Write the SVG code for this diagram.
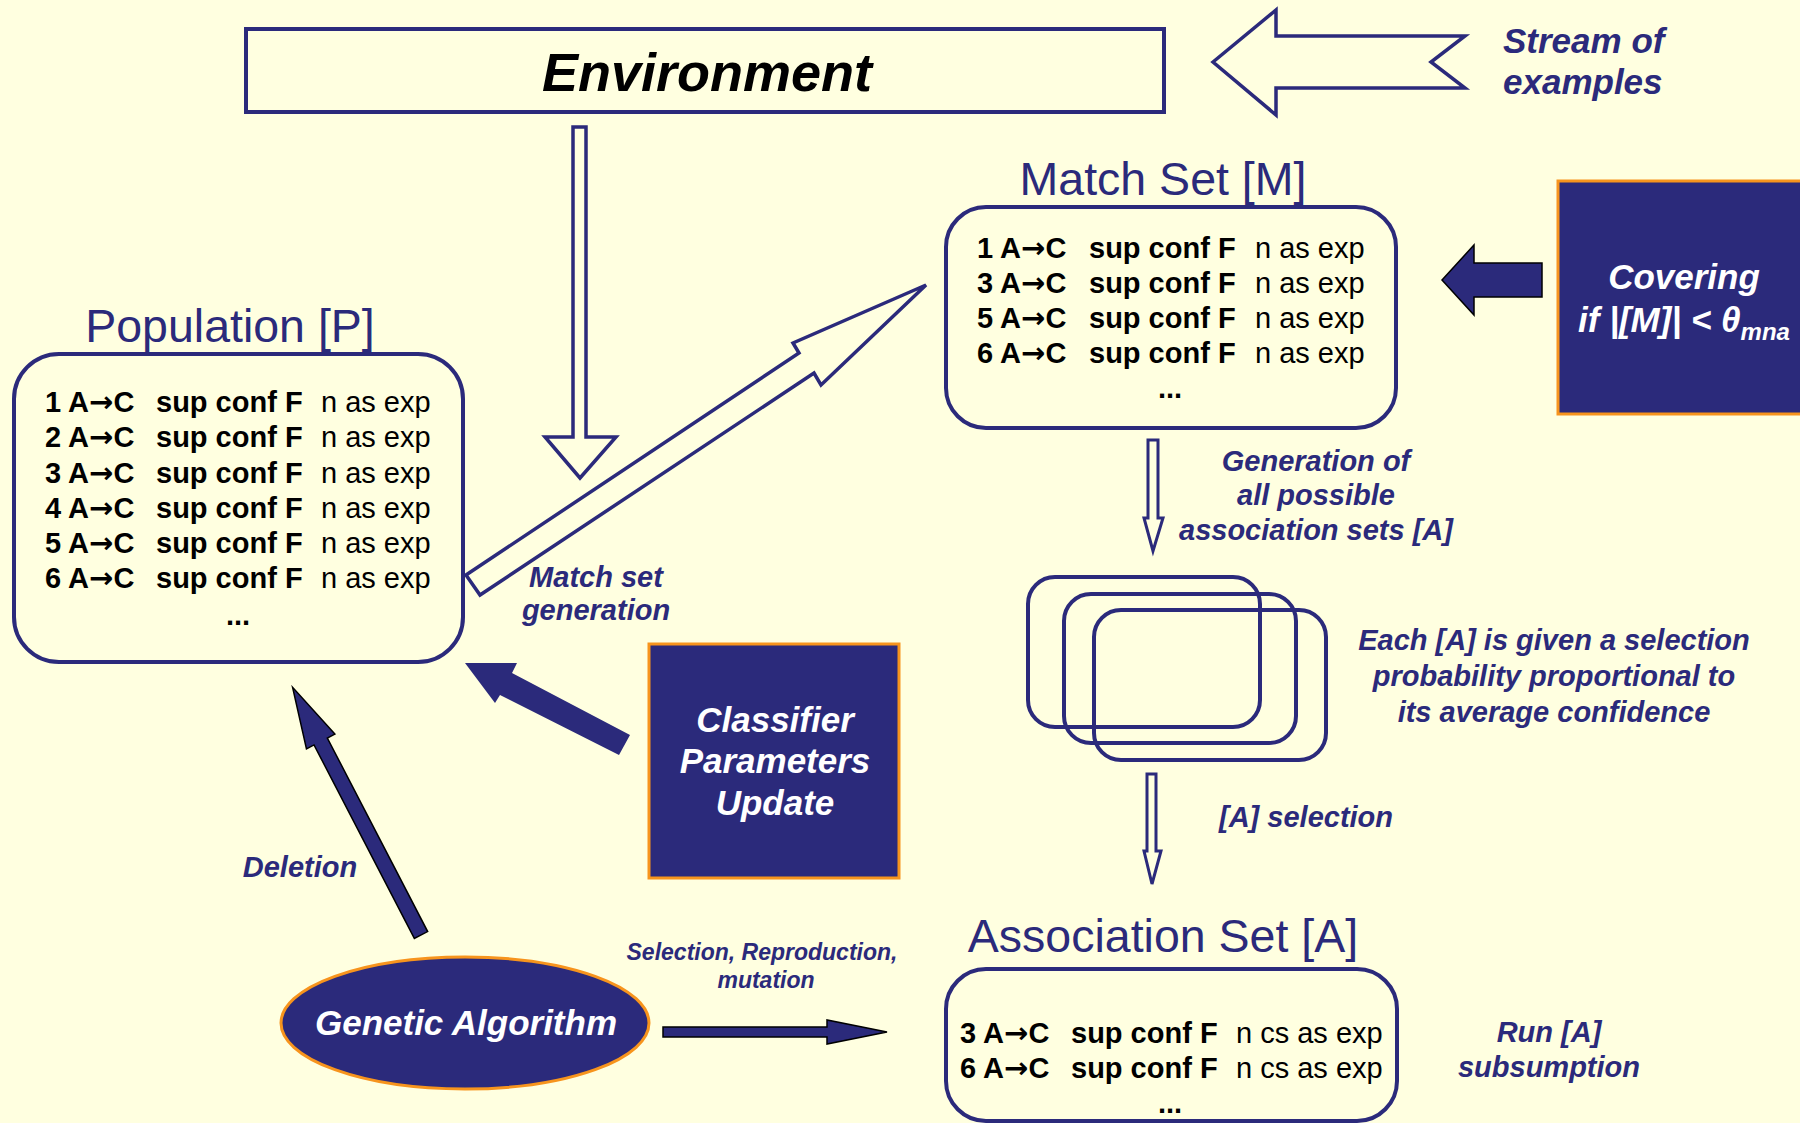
<svg xmlns="http://www.w3.org/2000/svg" width="1800" height="1123" viewBox="0 0 1800 1123">
  <style>
    text { font-family: "Liberation Sans", Arial, sans-serif; }
    .box { fill: none; stroke: #2B2A7B; stroke-width: 4; }
    .title { font-size: 46.5px; fill: #2B2A7B; }
    .row { font-size: 29px; fill: #000; }
    .b { font-weight: bold; }
    .arw { font-family: "DejaVu Sans", sans-serif; font-weight: bold; }
    .lbl { font-size: 29px; font-weight: bold; font-style: italic; fill: #2B2A7B; }
    .lbl.big { font-size: 35px; }
    .lbl.small { font-size: 23px; }
    .wlbl { font-size: 35px; font-weight: bold; font-style: italic; fill: #fff; }
    .sub { font-size: 24px; }
    .dark { fill: #2B2A7B; stroke: #F7941D; stroke-width: 3; }
    .hollow { fill: #FFFFE0; stroke: #2B2A7B; stroke-width: 3.5; }
    .hollow.thin { stroke-width: 3; }
    .solid { fill: #2B2A7B; stroke: #000; stroke-width: 1.5; }
    .solid-nb { fill: #2B2A7B; stroke: none; }
  </style>

  <rect width="1800" height="1123" fill="#FFFFE0"/>

  <!-- Environment -->
  <g id="environment">
    <rect x="246" y="29" width="918" height="83" fill="none" stroke="#2B2A7B" stroke-width="4"/>
    <text x="707" y="91" text-anchor="middle" font-size="54" font-weight="bold" font-style="italic" fill="#000">Environment</text>
  </g>

  <!-- Stream of examples -->
  <g id="stream">
    <polygon class="hollow" points="1213,62 1276,10 1276,36 1465,36 1431,62 1465,88 1276,88 1276,115"/>
    <text class="lbl big" x="1503" y="53">Stream of</text>
    <text class="lbl big" x="1503" y="94">examples</text>
  </g>

  <!-- Population [P] -->
  <g id="population">
    <text class="title" x="230" y="342" text-anchor="middle">Population [P]</text>
    <rect class="box" x="14" y="354" width="449" height="308" rx="45"/>
    <text class="row"><tspan class="b" x="45" y="412">1 A</tspan><tspan class="arw">→</tspan><tspan class="b">C</tspan><tspan class="b" x="156">sup conf F</tspan><tspan x="321">n as exp</tspan></text>
    <text class="row"><tspan class="b" x="45" y="447">2 A</tspan><tspan class="arw">→</tspan><tspan class="b">C</tspan><tspan class="b" x="156">sup conf F</tspan><tspan x="321">n as exp</tspan></text>
    <text class="row"><tspan class="b" x="45" y="483">3 A</tspan><tspan class="arw">→</tspan><tspan class="b">C</tspan><tspan class="b" x="156">sup conf F</tspan><tspan x="321">n as exp</tspan></text>
    <text class="row"><tspan class="b" x="45" y="518">4 A</tspan><tspan class="arw">→</tspan><tspan class="b">C</tspan><tspan class="b" x="156">sup conf F</tspan><tspan x="321">n as exp</tspan></text>
    <text class="row"><tspan class="b" x="45" y="553">5 A</tspan><tspan class="arw">→</tspan><tspan class="b">C</tspan><tspan class="b" x="156">sup conf F</tspan><tspan x="321">n as exp</tspan></text>
    <text class="row"><tspan class="b" x="45" y="588">6 A</tspan><tspan class="arw">→</tspan><tspan class="b">C</tspan><tspan class="b" x="156">sup conf F</tspan><tspan x="321">n as exp</tspan></text>
    <text class="row b" x="238" y="625" text-anchor="middle">...</text>
  </g>

  <!-- Match Set [M] -->
  <g id="match-set">
    <text class="title" x="1163" y="195" text-anchor="middle">Match Set [M]</text>
    <rect class="box" x="946" y="207" width="450" height="221" rx="40"/>
    <text class="row"><tspan class="b" x="977" y="258">1 A</tspan><tspan class="arw">→</tspan><tspan class="b">C</tspan><tspan class="b" x="1089">sup conf F</tspan><tspan x="1255">n as exp</tspan></text>
    <text class="row"><tspan class="b" x="977" y="293">3 A</tspan><tspan class="arw">→</tspan><tspan class="b">C</tspan><tspan class="b" x="1089">sup conf F</tspan><tspan x="1255">n as exp</tspan></text>
    <text class="row"><tspan class="b" x="977" y="328">5 A</tspan><tspan class="arw">→</tspan><tspan class="b">C</tspan><tspan class="b" x="1089">sup conf F</tspan><tspan x="1255">n as exp</tspan></text>
    <text class="row"><tspan class="b" x="977" y="363">6 A</tspan><tspan class="arw">→</tspan><tspan class="b">C</tspan><tspan class="b" x="1089">sup conf F</tspan><tspan x="1255">n as exp</tspan></text>
    <text class="row b" x="1170" y="398" text-anchor="middle">...</text>
  </g>

  <!-- Covering -->
  <g id="covering">
    <rect class="dark" x="1558" y="181" width="250" height="233"/>
    <text class="wlbl" x="1684" y="289" text-anchor="middle">Covering</text>
    <text class="wlbl" x="1684" y="332" text-anchor="middle">if |[M]| &lt; θ<tspan class="sub" dy="8">mna</tspan></text>
  </g>

  <!-- Candidate association sets -->
  <g id="association-candidates">
    <rect class="box" x="1028" y="577" width="232" height="150" rx="27"/>
    <rect class="box" x="1064" y="594" width="232" height="149" rx="27"/>
    <rect class="box" x="1094" y="610" width="232" height="150" rx="27"/>
  </g>

  <!-- Association Set [A] -->
  <g id="association-set">
    <text class="title" x="1163" y="952" text-anchor="middle">Association Set [A]</text>
    <rect class="box" x="946" y="969" width="451" height="152" rx="40"/>
    <text class="row"><tspan class="b" x="960" y="1043">3 A</tspan><tspan class="arw">→</tspan><tspan class="b">C</tspan><tspan class="b" x="1071">sup conf F</tspan><tspan x="1236">n cs as exp</tspan></text>
    <text class="row"><tspan class="b" x="960" y="1078">6 A</tspan><tspan class="arw">→</tspan><tspan class="b">C</tspan><tspan class="b" x="1071">sup conf F</tspan><tspan x="1236">n cs as exp</tspan></text>
    <text class="row b" x="1170" y="1113" text-anchor="middle">...</text>
  </g>

  <!-- Classifier Parameters Update -->
  <g id="classifier-update">
    <rect class="dark" x="649" y="644" width="250" height="234"/>
    <text class="wlbl" x="775" y="732" text-anchor="middle">Classifier</text>
    <text class="wlbl" x="775" y="773" text-anchor="middle">Parameters</text>
    <text class="wlbl" x="775" y="815" text-anchor="middle">Update</text>
  </g>

  <!-- Genetic Algorithm -->
  <g id="genetic-algorithm">
    <ellipse class="dark" cx="465" cy="1023" rx="184" ry="66"/>
    <text class="wlbl" x="466" y="1035" text-anchor="middle">Genetic Algorithm</text>
  </g>

  <!-- Connectors -->
  <g id="connectors">
    <!-- environment to population -->
    <polygon class="hollow" points="573,127 586,127 586,437 616,437 580,478 545,437 573,437"/>
    <!-- match set generation -->
    <polygon class="hollow" points="466,575 799,353 793,343 926,285 821,385 814,373 480,595"/>
    <!-- covering into match set -->
    <polygon class="solid" points="1442,280 1474,245 1474,263 1542,263 1542,297 1474,297 1474,315"/>
    <!-- match set to candidate sets -->
    <polygon class="hollow thin" points="1148,440 1158,440 1158,518 1163,518 1153,551 1144,518 1148,518"/>
    <!-- candidate sets to association set -->
    <polygon class="hollow thin" points="1147,774 1156,774 1156,851 1161,851 1152,884 1144,851 1147,851"/>
    <!-- parameters update to population -->
    <polygon class="solid-nb" points="465,663 517,663 512,673 630,735 619,755 500,695 495,703"/>
    <!-- deletion -->
    <polygon class="solid" transform="translate(421,935) rotate(242.6)" points="0,-7.5 218,-7.5 218,-16 279,0 218,16 218,7.5 0,7.5"/>
    <!-- genetic algorithm to association set -->
    <polygon class="solid" points="663,1027 827,1027 827,1020 887,1032 827,1044 827,1037 663,1037"/>
  </g>

  <!-- Edge labels -->
  <g id="labels">
    <text class="lbl" x="596" y="587" text-anchor="middle">Match set</text>
    <text class="lbl" x="596" y="620" text-anchor="middle">generation</text>
    <text class="lbl" x="1316" y="471" text-anchor="middle">Generation of</text>
    <text class="lbl" x="1316" y="505" text-anchor="middle">all possible</text>
    <text class="lbl" x="1316" y="540" text-anchor="middle">association sets [A]</text>
    <text class="lbl" x="1554" y="650" text-anchor="middle">Each [A] is given a selection</text>
    <text class="lbl" x="1554" y="686" text-anchor="middle">probability proportional to</text>
    <text class="lbl" x="1554" y="722" text-anchor="middle">its average confidence</text>
    <text class="lbl" x="1219" y="827">[A] selection</text>
    <text class="lbl" x="300" y="877" text-anchor="middle">Deletion</text>
    <text class="lbl small" x="762" y="960" text-anchor="middle">Selection, Reproduction,</text>
    <text class="lbl small" x="766" y="988" text-anchor="middle">mutation</text>
    <text class="lbl" x="1549" y="1042" text-anchor="middle">Run [A]</text>
    <text class="lbl" x="1549" y="1077" text-anchor="middle">subsumption</text>
  </g>
</svg>
